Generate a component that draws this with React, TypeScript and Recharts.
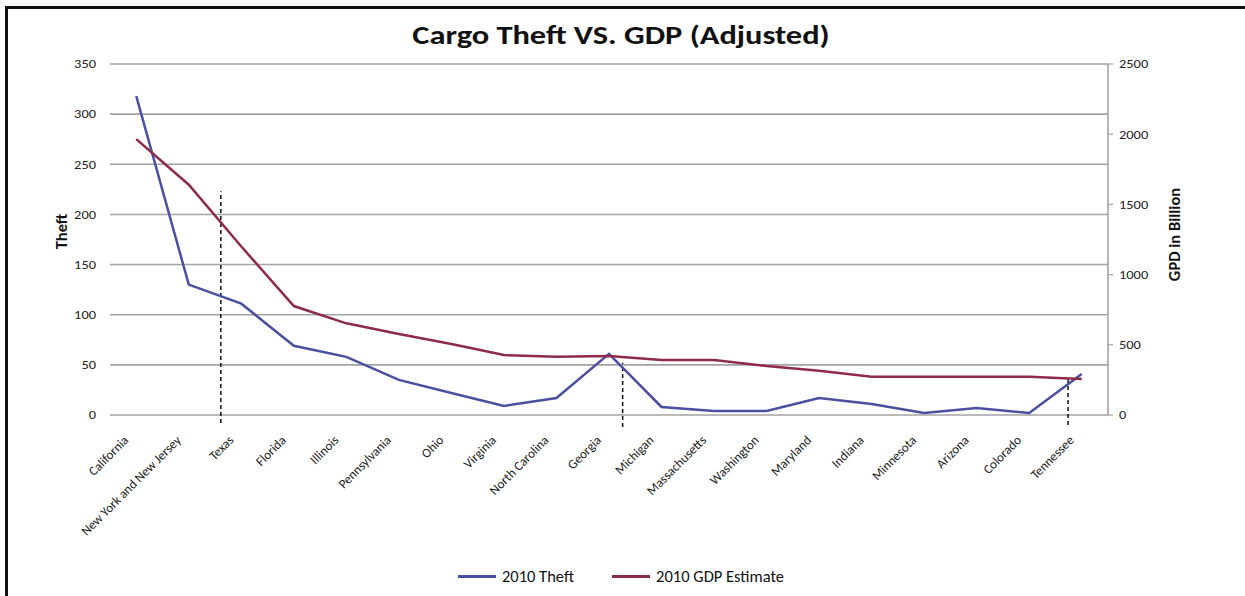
import React from 'react';
import { LineChart, Line, XAxis, YAxis, CartesianGrid, Legend, ReferenceLine, Label } from 'recharts';

const STATES = [
  'California', 'New York and New Jersey', 'Texas', 'Florida', 'Illinois', 'Pennsylvania',
  'Ohio', 'Virginia', 'North Carolina', 'Georgia', 'Michigan', 'Massachusetts',
  'Washington', 'Maryland', 'Indiana', 'Minnesota', 'Arizona', 'Colorado', 'Tennessee',
];
const THEFT_2010 = [318, 130, 111, 69, 58, 35, 22, 9, 17, 61, 8, 4, 4, 17, 11, 2, 7, 2, 41];
const GDP_2010 = [1965, 1640, 1200, 776, 653, 577, 506, 427, 415, 420, 392, 392, 349, 316, 273, 273, 273, 272, 256];
const SERIES_NAMES = ['2010 Theft', '2010 GDP Estimate'];
const THEFT_TICKS = [0, 50, 100, 150, 200, 250, 300, 350];
const GDP_TICKS = [0, 500, 1000, 1500, 2000, 2500];
const CATEGORY_TICKS = STATES.map((_, i) => i);
// hand-drawn dashed markers (position on the category index scale, extent in Theft units)
const MARK_X = [1.61, 9.26, 17.74];
const MARK_TOP = [223, 52, 38];
const MARK_BOTTOM = [-8, -12, -10];

const FONT = 'Carlito, Calibri, Lato, "Open Sans", sans-serif';
const BLUE = '#4a4f9f';
const RED = '#8e2b4c';
const GRID = '#a3a3a3';
const STRETCH = 1.2;

const data = STATES.map((name, i) => ({ idx: i, name, theft: THEFT_2010[i], gdp: GDP_2010[i] }));

const StateTick = (props: any) => {
  const { x, y, payload } = props;
  return (
    <g transform={`translate(${x - 7},${y + 18}) rotate(-45)`}>
      <text x={0} y={0} textAnchor="end" fontSize={13} fill="#222" fontFamily={FONT}>
        {STATES[payload.value]}
      </text>
    </g>
  );
};

const NumTick = (props: any) => {
  const { x, y, payload, anchor } = props;
  return (
    <g transform={`translate(${x},${y}) scale(${STRETCH},1)`}>
      <text x={0} y={0} dy="0.36em" textAnchor={anchor} fontSize={12} fill="#222" fontFamily={FONT}>
        {payload.value}
      </text>
    </g>
  );
};

const LegendContent = (props: any) => {
  const items = [...(props.payload || [])].sort(
    (a: any, b: any) => SERIES_NAMES.indexOf(a.value) - SERIES_NAMES.indexOf(b.value)
  );
  return (
    <div style={{ display: 'flex', justifyContent: 'center', fontFamily: FONT, fontSize: 16.5, color: '#111' }}>
      {items.map((p: any, i: number) => (
        <div key={i} style={{ display: 'flex', alignItems: 'center', marginLeft: i ? 38 : 0 }}>
          <div style={{ width: 38, height: 3, background: p.color, marginRight: 6 }} />
          <span>{p.value}</span>
        </div>
      ))}
    </div>
  );
};

export default function App() {
  return (
    <div style={{ position: 'absolute', left: 0, top: 0, width: 1245, height: 596, overflow: 'hidden', background: '#fff' }}>
      <div style={{ position: 'absolute', left: 5, top: 6, width: 1260, height: 620, borderTop: '3px solid #111', borderLeft: '3px solid #111' }} />
      <div style={{ position: 'absolute', left: 0, top: 18, width: 1242, textAlign: 'center', fontFamily: FONT, fontWeight: 700, fontSize: 27, color: '#111', transform: `scaleX(${STRETCH})`, transformOrigin: '621px 0' }}>
        Cargo Theft VS. GDP (Adjusted)
      </div>
      <div style={{ position: 'absolute', left: 0, top: 0 }}>
        <LineChart width={1245} height={596} data={data} margin={{ top: 64, right: 10, bottom: 10, left: 10 }}>
          <CartesianGrid yAxisId="left" vertical={false} stroke={GRID} strokeWidth={1.6} />
          <XAxis
            dataKey="idx"
            type="number"
            domain={[-0.5, 18.5]}
            ticks={CATEGORY_TICKS}
            interval={0}
            height={171}
            axisLine={false}
            tickLine={false}
            tick={<StateTick />}
          />
          <YAxis
            yAxisId="left"
            orientation="left"
            width={100}
            domain={[0, 350]}
            ticks={THEFT_TICKS}
            axisLine={false}
            tickLine={false}
            tickSize={6}
            tickMargin={8}
            tick={<NumTick anchor="end" />}
          >
            <Label
              content={(p: any) => {
                const vb = p.viewBox || {};
                const cx = vb.x + 51;
                const cy = vb.y + vb.height / 2 - 8;
                return (
                  <text transform={`translate(${cx},${cy}) rotate(-90)`} textAnchor="middle" dominantBaseline="central" fontSize={16.5} fontWeight={700} fill="#111" fontFamily={FONT}>
                    Theft
                  </text>
                );
              }}
            />
          </YAxis>
          <YAxis
            yAxisId="right"
            orientation="right"
            width={127}
            domain={[0, 2500]}
            ticks={GDP_TICKS}
            axisLine={{ stroke: GRID, strokeWidth: 1.6 }}
            tickLine={{ stroke: GRID, strokeWidth: 1.2 }}
            tickSize={5}
            tickMargin={6}
            tick={<NumTick anchor="start" />}
          >
            <Label
              content={(p: any) => {
                const vb = p.viewBox || {};
                const cx = vb.x + 66;
                const cy = vb.y + vb.height / 2 - 5;
                return (
                  <text transform={`translate(${cx},${cy}) rotate(-90)`} textAnchor="middle" dominantBaseline="central" fontSize={16.5} fontWeight={700} fill="#111" fontFamily={FONT}>
                    GPD in Billion
                  </text>
                );
              }}
            />
          </YAxis>
          {MARK_X.map((mx, i) => (
            <ReferenceLine
              key={i}
              yAxisId="left"
              ifOverflow="visible"
              segment={[{ x: mx, y: MARK_BOTTOM[i] }, { x: mx, y: MARK_TOP[i] }]}
              stroke="#111"
              strokeWidth={1.5}
              strokeDasharray="4 3"
            />
          ))}
          <Line yAxisId="left" type="linear" dataKey="theft" name={SERIES_NAMES[0]} stroke={BLUE} strokeWidth={2.5} dot={false} isAnimationActive={false} />
          <Line yAxisId="right" type="linear" dataKey="gdp" name={SERIES_NAMES[1]} stroke={RED} strokeWidth={2.5} dot={false} isAnimationActive={false} />
          <Legend
            layout="horizontal"
            verticalAlign="middle"
            align="center"
            content={<LegendContent />}
            wrapperStyle={{ top: 566, left: 0, width: 1242 }}
          />
        </LineChart>
      </div>
    </div>
  );
}
